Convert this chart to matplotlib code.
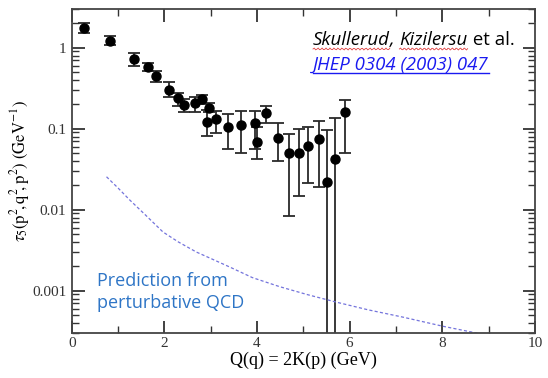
import numpy as np
import matplotlib
matplotlib.use("Agg")
import matplotlib.pyplot as plt
from matplotlib.lines import Line2D
from matplotlib.ticker import LogLocator, FixedLocator, NullFormatter

plt.rcParams["font.family"] = "Liberation Serif"
plt.rcParams["mathtext.fontset"] = "stix"

# lattice data: Q (GeV), tau_5 value and error bar ends
q = [0.27, 0.83, 1.35, 1.64, 1.82, 2.11, 2.30, 2.43, 2.66, 2.82, 2.96, 2.93,
     3.12, 3.38, 3.66, 3.96, 4.00, 4.20, 4.45, 4.69, 4.90, 5.11, 5.33, 5.51,
     5.69, 5.89]
tau = [1.74, 1.22, 0.716, 0.58, 0.444, 0.298, 0.24, 0.196, 0.206, 0.23, 0.178,
       0.122, 0.131, 0.105, 0.11, 0.116, 0.0693, 0.156, 0.077, 0.0502, 0.0507,
       0.0619, 0.0743, 0.0217, 0.042, 0.16]
tau_hi = [2.0, 1.39, 0.85, 0.65, 0.52, 0.374, 0.277, 0.233, 0.247, 0.261, 0.206,
          0.171, 0.165, 0.15, 0.164, 0.164, 0.105, 0.192, 0.117, 0.0865, 0.0989,
          0.106, 0.123, 0.0969, 0.135, 0.228]
tau_lo = [1.53, 1.09, 0.60, 0.51, 0.374, 0.246, 0.189, 0.162, 0.162, 0.20, 0.159,
          0.0817, 0.0897, 0.0563, 0.0507, 0.0568, 0.042, 0.119, 0.0403, 0.00838,
          0.0148, 0.0215, 0.0192, 1e-6, 1e-6, 0.0498]

# perturbative QCD curve
pq = [0.75, 1.0, 1.25, 1.6, 1.97, 2.3, 2.69, 3.0, 3.41, 3.9, 4.49, 5.1, 5.72,
      6.4, 7.16, 8.02, 8.74, 9.2]
pt = [0.0255, 0.0185, 0.0132, 0.0085, 0.0053, 0.0040, 0.0030, 0.0025, 0.00196,
      0.00145, 0.00112, 0.00089, 0.00072, 0.00058, 0.00047, 0.000363, 0.0003,
      0.00027]

fig = plt.figure(figsize=(5.48, 3.78), dpi=100)
ax = fig.add_axes([0.131, 0.119, 0.845, 0.857])

tau = np.array(tau)
yerr = [tau - np.array(tau_lo), np.array(tau_hi) - tau]
ax.errorbar(q, tau, yerr=yerr, fmt="o", color="black", ecolor="#2a2a2a",
            ms=6.5, elinewidth=1.3, capsize=4, capthick=1.3)

ax.plot(pq, pt, ls=(0, (2.5, 1.8)), color="#7474dc", lw=0.9)

ax.set_yscale("log")
ax.set_xlim(0, 10)
ax.set_ylim(3e-4, 3.0)

ax.xaxis.set_major_locator(FixedLocator([0, 2, 4, 6, 8, 10]))
ax.xaxis.set_minor_locator(FixedLocator([1, 3, 5, 7, 9]))
ax.yaxis.set_major_locator(FixedLocator([0.001, 0.01, 0.1, 1]))
ax.yaxis.set_minor_locator(LogLocator(base=10, subs=np.arange(2, 10)))
ax.yaxis.set_minor_formatter(NullFormatter())
ax.set_yticklabels(["0.001", "0.01", "0.1", "1"])
ax.tick_params(which="both", direction="in", top=True, right=True,
               labelsize=11, colors="#333333", pad=4)
ax.tick_params(which="major", length=9, width=1.3)
ax.tick_params(which="minor", length=5, width=1.0)
ax.tick_params(axis="x", which="major", pad=3)
for s in ax.spines.values():
    s.set_color("#444444")
    s.set_linewidth(1.3)

ax.set_xlabel("Q(q) = 2K(p) (GeV)", fontsize=13, labelpad=1)
ax.set_ylabel(r"$\tau_5(\mathrm{p}^2\!,\mathrm{q}^2\!,\mathrm{p}^2)\ (\mathrm{GeV}^{-1})$",
              fontsize=12)
ax.yaxis.set_label_coords(-0.086, 0.5)

fig.text(97 / 548, 1 - 308 / 378, "Prediction from\nperturbative QCD",
         family="Open Sans", fontsize=13, color="#2e75c6", linespacing=1.3,
         va="baseline", ha="left", multialignment="left")

# reference annotation, pieced together to allow underlines
fig.canvas.draw()
r = fig.canvas.get_renderer()
pieces = [("Skullerud", "italic", True), (", ", "italic", False),
          ("Kizilersu", "italic", True), (" et al.", "normal", False)]
x0 = 313 / 548
y1 = 1 - 45 / 378
x = x0
inv = fig.transFigure.inverted()
for txt, style, wavy in pieces:
    t = fig.text(x, y1, txt, family="Open Sans", style=style, fontsize=13.4,
                 color="black", ha="left", va="baseline")
    bb = t.get_window_extent(r)
    (ax0, ay0), (ax1, ay1) = inv.transform([[bb.x0, bb.y0], [bb.x1, bb.y1]])
    if wavy:
        wx = np.linspace(ax0, ax1, 60)
        wy = y1 - 4 / 378 + 1.0 / 378 * np.sin((wx - ax0) * 548 * np.pi / 2.0)
        fig.add_artist(Line2D(wx, wy, color="#e04040", lw=0.6))
    x = ax1
y2 = 1 - 70 / 378
t = fig.text(x0, y2, "JHEP 0304 (2003) 047", family="Open Sans", style="italic",
             fontsize=13.4, color="#1a1af0", ha="left", va="baseline")
bb = t.get_window_extent(r)
(ax0, _), (ax1, _) = inv.transform([[bb.x0, bb.y0], [bb.x1, bb.y1]])
fig.add_artist(Line2D([ax0, ax1], [y2 - 3 / 378] * 2, color="#1a1af0", lw=1.0))

fig.savefig("out.png", dpi=100)
